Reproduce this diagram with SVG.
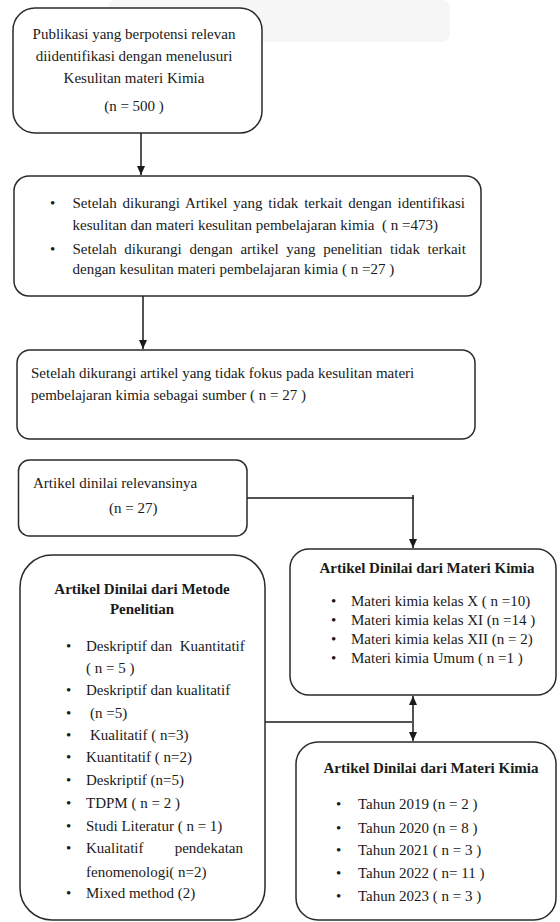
<svg xmlns="http://www.w3.org/2000/svg" width="560" height="922" viewBox="0 0 560 922">
<style>
.box{fill:#fff;stroke:#2a2a2a;stroke-width:1.5}
text{font-family:'Liberation Serif','DejaVu Serif',serif;font-size:15px;fill:#1a1a1a}
.b{font-weight:bold}
.c{text-anchor:middle}
.e{text-anchor:end}
.p{white-space:pre}
.ln{fill:none;stroke:#1a1a1a;stroke-width:1.5}
</style>
<defs>
<marker id="arr" markerUnits="userSpaceOnUse" markerWidth="10" markerHeight="8" refX="9" refY="4" orient="auto-start-reverse" viewBox="0 0 10 8">
<path d="M0 0 L9 4 L0 8 Z" fill="#1a1a1a"/>
</marker>
</defs>
<rect x="108" y="0" width="342" height="42" rx="8" fill="#f6f6f6"/>

<g id="connectors">
<path class="ln" d="M141 133 V175" marker-end="url(#arr)"/>
<path class="ln" d="M143 296 V349" marker-end="url(#arr)"/>
<path class="ln" d="M247 498 H414"/>
<path class="ln" d="M413 495 V548" marker-end="url(#arr)"/>
<path class="ln" d="M265 722 H412"/>
<path class="ln" d="M413 696 V741" marker-start="url(#arr)" marker-end="url(#arr)"/>
</g>

<g id="n1">
<rect class="box" x="13" y="8" width="249" height="125" rx="22"/>
<text class="c" x="134" y="39">Publikasi yang berpotensi relevan</text>
<text class="c" x="134" y="61">diidentifikasi dengan menelusuri</text>
<text class="c" x="134" y="83">Kesulitan materi Kimia</text>
<text class="c" x="134" y="111">(n = 500 )</text>
</g>

<g id="n2">
<rect class="box" x="14" y="176" width="467" height="120" rx="15"/>
<text x="50" y="208">•</text>
<text x="72.5" y="208" style="word-spacing:2.1px">Setelah dikurangi Artikel yang tidak terkait dengan identifikasi</text>
<text class="p" x="72.5" y="230">kesulitan dan materi kesulitan pembelajaran kimia  ( n =473)</text>
<text x="50" y="254">•</text>
<text x="72.5" y="254" style="word-spacing:3.9px">Setelah dikurangi dengan artikel yang penelitian tidak terkait</text>
<text x="72.5" y="274">dengan kesulitan materi pembelajaran kimia ( n =27 )</text>
</g>

<g id="n3">
<rect class="box" x="17" y="350" width="458" height="89" rx="13"/>
<text x="31" y="378">Setelah dikurangi artikel yang tidak fokus pada kesulitan materi</text>
<text x="31" y="400">pembelajaran kimia sebagai sumber ( n = 27 )</text>
</g>

<g id="n4">
<rect class="box" x="18.5" y="460" width="228.5" height="76" rx="11"/>
<text x="33" y="488">Artikel dinilai relevansinya</text>
<text x="109" y="513">(n = 27)</text>
</g>

<g id="n5">
<rect class="box" x="290" y="549" width="266" height="146" rx="19"/>
<text class="b c" x="427" y="573">Artikel Dinilai dari Materi Kimia</text>
<text x="331" y="606">•</text><text x="351" y="606">Materi kimia kelas X ( n =10)</text>
<text x="331" y="625">•</text><text x="351" y="625">Materi kimia kelas XI (n =14 )</text>
<text x="331" y="644">•</text><text x="351" y="644">Materi kimia kelas XII (n = 2)</text>
<text x="331" y="663">•</text><text x="351" y="663">Materi kimia Umum ( n =1 )</text>
</g>

<g id="n6">
<rect class="box" x="20" y="555" width="245" height="365" rx="32"/>
<text class="b c" x="142" y="594">Artikel Dinilai dari Metode</text>
<text class="b c" x="142" y="614">Penelitian</text>
<text x="66" y="651">•</text><text class="p" x="86" y="651">Deskriptif dan  Kuantitatif</text>
<text x="86" y="673">( n = 5 )</text>
<text x="66" y="695">•</text><text x="86" y="695">Deskriptif dan kualitatif</text>
<text x="66" y="718">•</text><text x="90" y="718">(n =5)</text>
<text x="66" y="740">•</text><text x="90" y="740">Kualitatif ( n=3)</text>
<text x="66" y="762">•</text><text x="86" y="762">Kuantitatif ( n=2)</text>
<text x="66" y="785">•</text><text x="86" y="785">Deskriptif (n=5)</text>
<text x="66" y="808">•</text><text x="86" y="808">TDPM ( n = 2 )</text>
<text x="66" y="831">•</text><text x="86" y="831">Studi Literatur ( n = 1)</text>
<text x="66" y="853">•</text><text x="86" y="853">Kualitatif</text><text class="e" x="243" y="853">pendekatan</text>
<text x="86" y="877">fenomenologi( n=2)</text>
<text x="66" y="898">•</text><text x="86" y="898">Mixed method (2)</text>
</g>

<g id="n7">
<rect class="box" x="296" y="742" width="260" height="178" rx="22"/>
<text class="b c" x="431" y="773">Artikel Dinilai dari Materi Kimia</text>
<text x="336" y="809">•</text><text x="358" y="809">Tahun 2019 (n = 2 )</text>
<text x="336" y="833">•</text><text x="358" y="833">Tahun 2020 (n = 8 )</text>
<text x="336" y="855">•</text><text x="358" y="855">Tahun 2021 ( n = 3 )</text>
<text x="336" y="878">•</text><text x="358" y="878">Tahun 2022 ( n= 11 )</text>
<text x="336" y="901">•</text><text x="358" y="901">Tahun 2023 ( n = 3 )</text>
</g>
</svg>
